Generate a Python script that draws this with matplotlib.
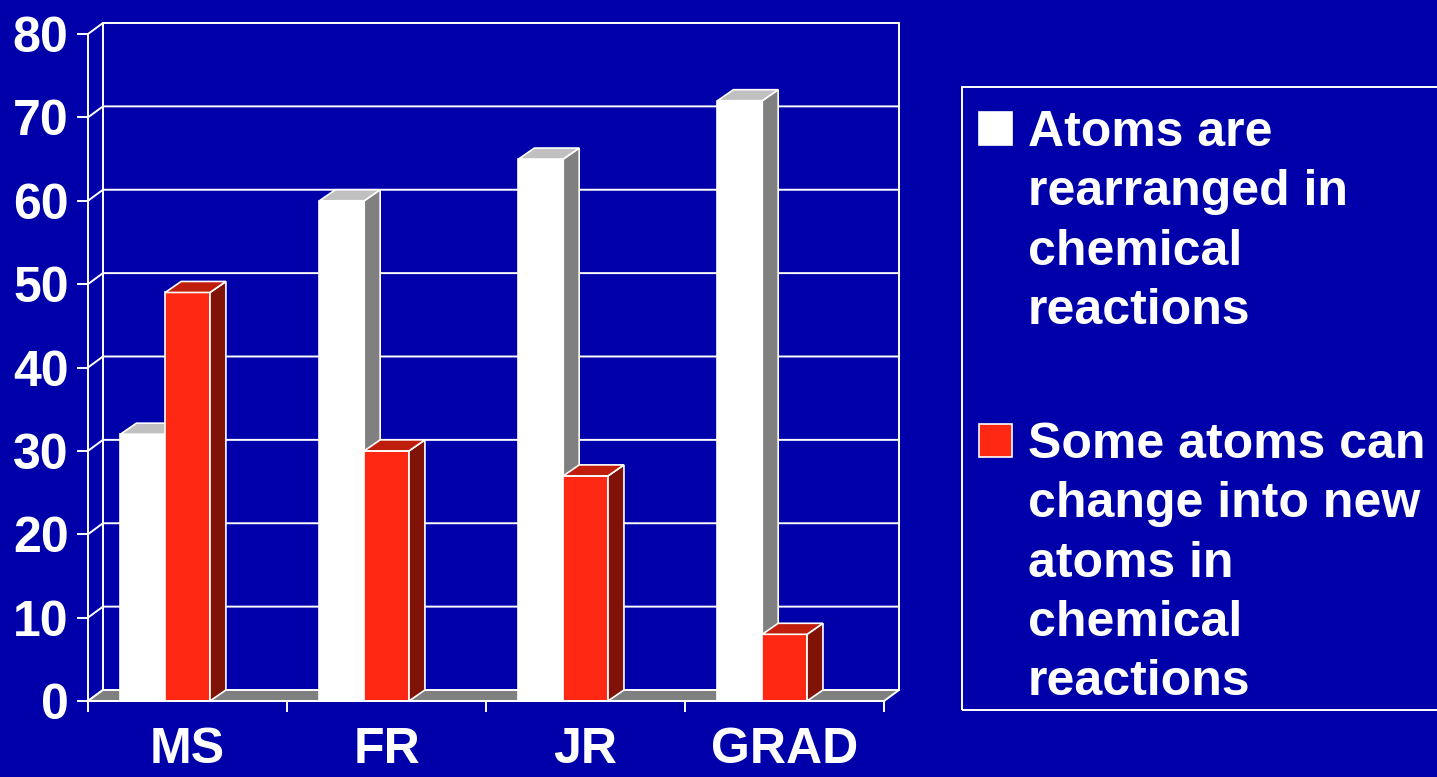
import numpy as np
import matplotlib.pyplot as plt
from matplotlib.patches import Polygon, Rectangle

plt.rcParams['font.family'] = ['Liberation Sans', 'DejaVu Sans']

#%% DATA

categories = ['MS', 'FR', 'JR', 'GRAD']
rearranged = [32, 60, 65, 72]
new_atoms = [49, 30, 27, 8]
series_labels = ['Atoms are\nrearranged in\nchemical\nreactions',
                 'Some atoms can\nchange into new\natoms in\nchemical\nreactions']
yticks = np.arange(0, 81, 10)

#%% STYLE

BG = '#0000AA'
# front, top, side faces
WHITE_FACES = ('#FFFFFF', '#C0C0C0', '#808080')
RED_FACES = ('#FF2812', '#C01E0C', '#801208')
LW = 1.4

DX, DY = 0.075, 1.32    # depth of the back wall (data units)
BDX, BDY = 0.08, 1.32   # depth of a bar
BAR_W = 0.225
OFFSETS = [0.163, 0.388]

W, H = 1437, 777
fig = plt.figure(figsize=(W / 100, H / 100), dpi=100, facecolor=BG)
ax = fig.add_axes([88 / W, 76 / H, 811 / W, 678 / H])
ax.set_facecolor('none')
n = len(categories)
ax.set_xlim(0, n + DX)
ax.set_ylim(0, yticks[-1] + DY)

#%% WALLS AND FLOOR

for y in yticks:
    ax.plot([0, DX, n + DX], [y, y + DY, y + DY], color='white', lw=LW,
            zorder=1, clip_on=False, solid_joinstyle='miter')
for xw in [DX, n + DX]:
    ax.plot([xw, xw], [DY, yticks[-1] + DY], color='white', lw=LW, zorder=1, clip_on=False)

floor = Polygon([(0, 0), (n, 0), (n + DX, DY), (DX, DY)], closed=True,
                fc='#808080', ec='white', lw=LW, zorder=2, clip_on=False)
ax.add_patch(floor)

#%% BARS

z = 3
for i in range(n):
    for vals, faces, off in zip([rearranged, new_atoms], [WHITE_FACES, RED_FACES], OFFSETS):
        x0 = i + off
        v = vals[i]
        ax.bar(x0, v, width=BAR_W, align='edge', color=faces[0], edgecolor='white',
               lw=1.2, zorder=z, clip_on=False)
        top = Polygon([(x0, v), (x0 + BAR_W, v), (x0 + BAR_W + BDX, v + BDY), (x0 + BDX, v + BDY)],
                      closed=True, fc=faces[1], ec='white', lw=1.2, zorder=z)
        side = Polygon([(x0 + BAR_W, 0), (x0 + BAR_W + BDX, BDY), (x0 + BAR_W + BDX, v + BDY),
                        (x0 + BAR_W, v)], closed=True, fc=faces[2], ec='white', lw=1.2, zorder=z)
        ax.add_patch(side)
        ax.add_patch(top)
        z += 1

#%% AXES

for s in ['top', 'right']:
    ax.spines[s].set_visible(False)
ax.spines['left'].set_bounds(0, yticks[-1])
ax.spines['bottom'].set_bounds(0, n)
for s in ['left', 'bottom']:
    ax.spines[s].set_color('white')
    ax.spines[s].set_linewidth(LW)
    ax.spines[s].set_zorder(20)

ax.set_yticks(yticks)
ax.set_yticklabels([str(t) for t in yticks])
ax.tick_params(axis='y', colors='white', length=8, width=LW, pad=6,
               labelsize=36)
ax.set_xticks(np.arange(n + 1))
ax.set_xticklabels([])
ax.set_xticks(np.arange(n) + 0.5, minor=True)
ax.set_xticklabels(categories, minor=True)
ax.tick_params(axis='x', which='major', colors='white', length=8, width=LW)
ax.tick_params(axis='x', which='minor', colors='white', length=0, pad=19, labelsize=36)
for lab in ax.get_yticklabels() + ax.get_xticklabels(minor=True):
    lab.set_fontweight('bold')

#%% LEGEND

fig.patches.append(Rectangle((962 / W, (H - 710) / H), 0.5, 623 / H, transform=fig.transFigure,
                             fc='none', ec='white', lw=LW))
sq = 33
for lab, faces, ytop in zip(series_labels, [WHITE_FACES, RED_FACES], [112, 424]):
    fig.patches.append(Rectangle((979 / W, (H - ytop - sq) / H), sq / W, sq / H,
                                 transform=fig.transFigure, fc=faces[0], ec='white', lw=1.2))
    fig.text(1028 / W, (H - ytop + 2) / H, lab, color='white', fontsize=36, fontweight='bold',
             va='top', ha='left', linespacing=1.37)

fig.savefig('out.png', dpi=100, facecolor=BG)
